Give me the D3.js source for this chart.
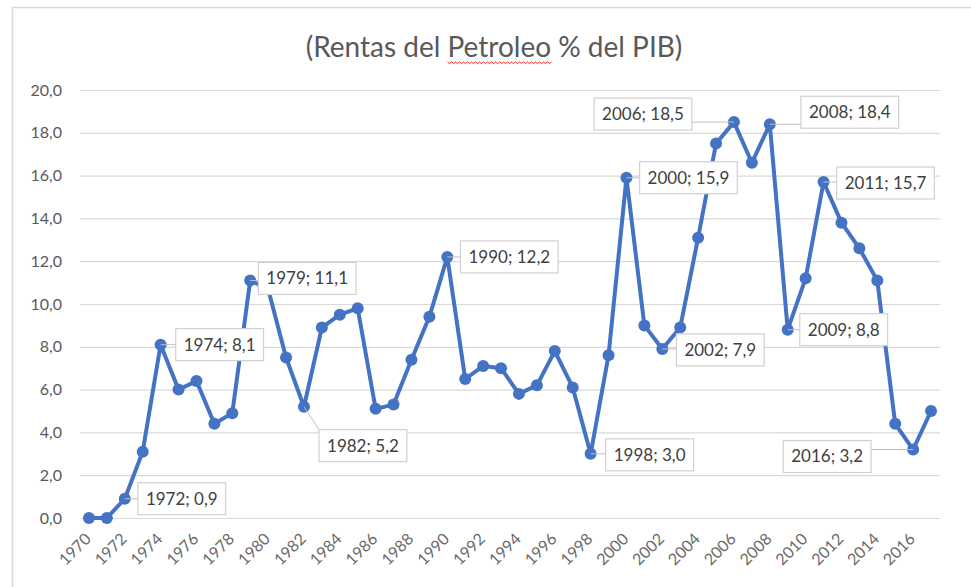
<!DOCTYPE html>
<html>
<head>
<meta charset="utf-8">
<script src="https://cdnjs.cloudflare.com/ajax/libs/d3/7.8.5/d3.min.js"></script>
<style>
  body { margin: 0; background: #fff; }
  svg { display: block; font-family: Lato, "Open Sans", sans-serif; }
</style>
</head>
<body>
<div id="chart"></div>
<script>
let years = d3.range(1970, 2018);

let values = [0.0, 0.0, 0.9, 3.1, 8.1, 6.0, 6.4, 4.4, 4.9, 11.1,
              10.7, 7.5, 5.2, 8.9, 9.5, 9.8, 5.1, 5.3, 7.4, 9.4,
              12.2, 6.5, 7.1, 7.0, 5.8, 6.2, 7.8, 6.1, 3.0, 7.6,
              15.9, 9.0, 7.9, 8.9, 13.1, 17.5, 18.5, 16.6, 18.4, 8.8,
              11.2, 15.7, 13.8, 12.6, 11.1, 4.4, 3.2, 5.0];

let yTicks = [0, 2, 4, 6, 8, 10, 12, 14, 16, 18, 20];

let labelYears = [1972, 1974, 1979, 1982, 1990, 1998, 2000, 2002, 2006, 2008, 2009, 2011, 2016];

// where each callout box sits, relative to its point
let labelOffsets = {
    1972: [57, 0], 1974: [59, 0], 1979: [57, -2], 1982: [59, 39],
    1990: [62, 0], 1998: [59, 1], 2000: [62, 0], 2002: [58, 1],
    2006: [-91, -8], 2008: [80, -12], 2009: [56, 0], 2011: [62, 1],
    2016: [-86, 7]
};

let width = 971, height = 587;
let plot = { left: 80, right: 940, top: 90, bottom: 518 };

let data = years.map(function(y, i) { return { year: y, value: values[i] }; });
let fmt = function(v) { return v.toFixed(1).replace(".", ","); };

let svg = d3.select("#chart").append("svg")
    .attr("width", width)
    .attr("height", height);

// chart area frame
svg.append("rect")
    .attr("x", 12.5).attr("y", 7.5)
    .attr("width", 1000).attr("height", 700)
    .attr("fill", "#fff")
    .attr("stroke", "#d9d9d9")
    .attr("stroke-width", 1.5);

let xScale = d3.scaleBand()
    .domain(years)
    .range([plot.left, plot.right]);

let yScale = d3.scaleLinear()
    .domain([0, 20])
    .range([plot.bottom, plot.top]);

let cx = function(d) { return xScale(d.year) + xScale.bandwidth() / 2; };
let cy = function(d) { return yScale(d.value); };

// title
let title = svg.append("text")
    .attr("x", 494)
    .attr("y", 57)
    .attr("text-anchor", "middle")
    .attr("font-size", 28)
    .attr("fill", "#595959")
    .text("(Rentas del Petroleo % del PIB)");

// spell-check squiggle under "Petroleo"
let tNode = title.node();
let full = tNode.textContent;
let startIdx = full.indexOf("Petroleo");
let x0 = tNode.getStartPositionOfChar(startIdx).x;
let x1 = tNode.getEndPositionOfChar(startIdx + 7).x;
let sq = "M" + x0 + ",62";
for (let x = x0, k = 0; x < x1; x += 2, k++) {
    sq += " L" + (x + 2) + "," + (k % 2 ? 62 : 63.5);
}
svg.append("path")
    .attr("d", sq)
    .attr("fill", "none")
    .attr("stroke", "#e0312c")
    .attr("stroke-width", 1);

// gridlines + y labels
svg.selectAll(".grid")
    .data(yTicks)
    .enter().append("line")
    .attr("class", "grid")
    .attr("x1", plot.left).attr("x2", plot.right)
    .attr("y1", function(d) { return yScale(d) + 0.5; })
    .attr("y2", function(d) { return yScale(d) + 0.5; })
    .attr("stroke", "#d9d9d9")
    .attr("stroke-width", 1.2);

svg.selectAll(".ylab")
    .data(yTicks)
    .enter().append("text")
    .attr("class", "ylab")
    .attr("x", 62)
    .attr("y", function(d) { return yScale(d); })
    .attr("dy", "0.35em")
    .attr("text-anchor", "end")
    .attr("font-size", 16)
    .attr("fill", "#595959")
    .text(function(d) { return fmt(d); });

// x labels every 2 years
svg.selectAll(".xlab")
    .data(years.filter(function(y) { return (y - 1970) % 2 === 0; }))
    .enter().append("text")
    .attr("class", "xlab")
    .attr("text-anchor", "end")
    .attr("font-size", 16)
    .attr("fill", "#6a6a6a")
    .attr("transform", function(y) {
        let x = xScale(y) + xScale.bandwidth() / 2 + 3;
        return "translate(" + x + ",540) rotate(-45)";
    })
    .text(function(y) { return y; });

// line + markers
let line = d3.line().x(cx).y(cy);

svg.append("path")
    .datum(data)
    .attr("d", line)
    .attr("fill", "none")
    .attr("stroke", "#4472c4")
    .attr("stroke-width", 4)
    .attr("stroke-linejoin", "round");

svg.selectAll(".dot")
    .data(data)
    .enter().append("circle")
    .attr("class", "dot")
    .attr("cx", cx)
    .attr("cy", cy)
    .attr("r", 6)
    .attr("fill", "#4472c4");

// callouts
let labelled = data.filter(function(d) { return labelYears.indexOf(d.year) >= 0; });
let g = svg.selectAll(".callout")
    .data(labelled)
    .enter().append("g")
    .attr("class", "callout");

g.each(function(d) {
    let el = d3.select(this);
    let px = cx(d), py = cy(d);
    let bx = px + labelOffsets[d.year][0], by = py + labelOffsets[d.year][1];
    let txt = el.append("text")
        .attr("x", bx).attr("y", by)
        .attr("dy", "0.35em")
        .attr("text-anchor", "middle")
        .attr("font-size", 17)
        .attr("fill", "#404040")
        .text(d.year + "; " + fmt(d.value));
    let w = txt.node().getComputedTextLength() + 16, h = 32;
    let left = bx - w / 2, top = by - h / 2;
    // leader from nearest box edge to the point
    let ex = Math.max(left, Math.min(px, left + w));
    let ey = Math.max(top, Math.min(py, top + h));
    el.insert("line", "text")
        .attr("x1", ex).attr("y1", ey)
        .attr("x2", px).attr("y2", py)
        .attr("stroke", "#bfbfbf")
        .attr("stroke-width", 1);
    el.insert("rect", "text")
        .attr("x", left).attr("y", top)
        .attr("width", w).attr("height", h)
        .attr("fill", "#fff")
        .attr("stroke", "#d0d0d0")
        .attr("stroke-width", 1.2);
});
</script>
</body>
</html>
